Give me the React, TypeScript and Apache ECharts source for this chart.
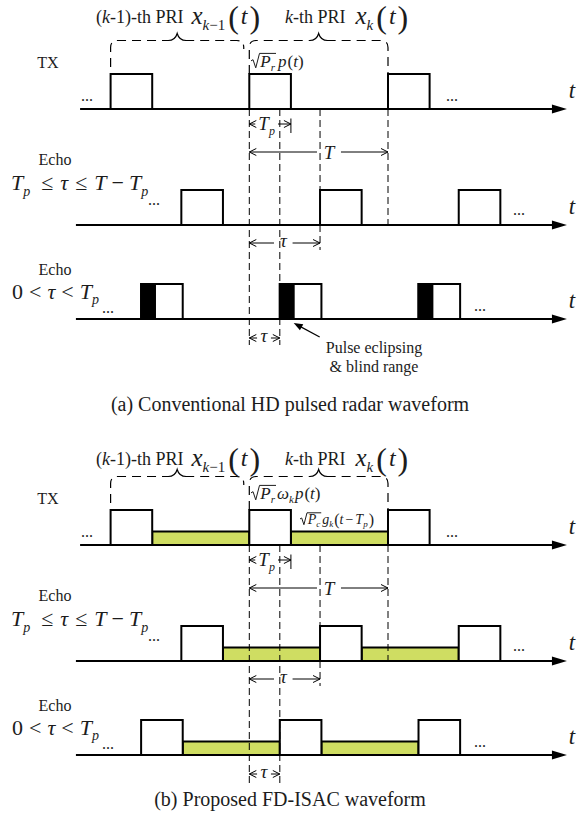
import React, { useEffect, useRef } from 'react';
import * as echarts from 'echarts';

// ---------------- data (time units, PRI T = 100) ----------------
const PRI = 100; // T
const PULSE_WIDTH = 30; // T_p
const TAU_LONG = 51; // T_p <= tau <= T - T_p
const TAU_SHORT = 22; // 0 < tau < T_p
const ECLIPSE_WIDTH = 10; // blind part of the eclipsed echo

const txPulseStarts = [-100, 0, 100];
const echoLongStarts = [-49, 51, 151];
const echoShortStarts = [-78, 22, 122];
const txCommBars = [[-70, 0], [30, 100]];
const echoLongCommBars = [[-19, 51], [81, 151]];
const echoShortCommBars = [[-48, 22], [52, 122]];
const braceSpans = [[-100, -4], [0, 100]];
const captions = ['(a) Conventional HD pulsed radar waveform', '(b) Proposed FD-ISAC waveform'];
const rowLabels = ['TX', 'Echo', 'Echo'];

// ---------------- layout ----------------
const W = 579;
const H = 823;
const X_ORIGIN_PX = 249.3;
const PX_PER_UNIT = 1.387;
const X_MIN = -X_ORIGIN_PX / PX_PER_UNIT;
const X_MAX = (W - X_ORIGIN_PX) / PX_PER_UNIT;
const PANEL_DY = [0, 436];
const TITLE_BASE = [23, 465];
const CAPTION_Y = [404, 799];
const BASE_TX = 109;
const BASE_E1 = 225;
const BASE_E2 = 319;
const PULSE_H = 35;
const COMM_H = 13.5;
const AXIS_END = 229;
const GREEN = '#cfdd62';
const INK = '#1c1c1c';
const FONT = '"Liberation Serif", "Times New Roman", Times, serif';

type Piece = { t?: string; s: number; i?: boolean; dy?: number; g?: number; rad?: Piece[] };

let mctx: CanvasRenderingContext2D | null = null;
function measure(t: string, s: number, i?: boolean) {
  if (!mctx) mctx = document.createElement('canvas').getContext('2d');
  if (!mctx) return t.length * s * 0.5;
  mctx.font = `${i ? 'italic ' : ''}${s}px ${FONT}`;
  return mctx.measureText(t).width;
}
function pieceWidth(p: Piece): number {
  if (p.rad) return (p.g || 0) + p.s * 0.55 + p.rad.reduce((a, q) => a + pieceWidth(q), 0) + 1;
  return (p.g || 0) + measure(p.t || '', p.s, p.i);
}
function textEl(text: string, x: number, y: number, s: number, italic = false, align = 'left') {
  return {
    type: 'text',
    x,
    y,
    style: { text, font: `${italic ? 'italic ' : ''}${s}px ${FONT}`, fill: INK, align, verticalAlign: 'middle' },
  };
}
function mathEls(pieces: Piece[], x0: number, base: number, align: 'left' | 'center', out: any[]) {
  const total = pieces.reduce((a, p) => a + pieceWidth(p), 0);
  let x = align === 'left' ? x0 : x0 - total / 2;
  const place = (ps: Piece[]) => {
    for (const p of ps) {
      x += p.g || 0;
      if (p.rad) {
        const s = p.s;
        const innerW = p.rad.reduce((a, q) => a + pieceWidth(q), 0);
        const X = x;
        out.push({
          type: 'polyline',
          shape: {
            points: [
              [X, base - 0.36 * s],
              [X + 0.12 * s, base - 0.43 * s],
              [X + 0.28 * s, base + 0.05 * s],
              [X + 0.5 * s, base - 0.8 * s],
              [X + 0.55 * s + innerW + 1, base - 0.8 * s],
            ],
          },
          style: { stroke: INK, fill: 'none', lineWidth: 1 },
        });
        x = X + 0.55 * s;
        place(p.rad);
        x += 1;
      } else {
        const b = base + (p.dy || 0);
        out.push(textEl(p.t || '', x, b - 0.34 * p.s, p.s, !!p.i));
        x += measure(p.t || '', p.s, p.i);
      }
    }
  };
  place(pieces);
}

// formulas
const titleKm1: Piece[] = [
  { t: '(', s: 18 }, { t: 'k', s: 18, i: true }, { t: '-1)-th PRI', s: 18 },
  { t: 'x', s: 25, i: true, g: 8, dy: 1 }, { t: 'k', s: 15, i: true, dy: 7 }, { t: '−1', s: 15, dy: 7 },
  { t: '(', s: 32, g: 3, dy: 5 }, { t: 't', s: 24, i: true, g: 2, dy: 1 }, { t: ')', s: 32, g: 2, dy: 5 },
];
const titleK: Piece[] = [
  { t: 'k', s: 18, i: true }, { t: '-th PRI', s: 18 },
  { t: 'x', s: 25, i: true, g: 10, dy: 1 }, { t: 'k', s: 15, i: true, dy: 7 },
  { t: '(', s: 32, g: 3, dy: 5 }, { t: 't', s: 24, i: true, g: 2, dy: 1 }, { t: ')', s: 32, g: 2, dy: 5 },
];
const radarSig: Piece[] = [
  { rad: [{ t: 'P', s: 17, i: true }, { t: 'r', s: 11, i: true, dy: 4 }], s: 17 },
  { t: 'p', s: 17, i: true, g: 2 }, { t: '(', s: 17, g: 1 }, { t: 't', s: 17, i: true }, { t: ')', s: 17 },
];
const radarSigB: Piece[] = [
  { rad: [{ t: 'P', s: 17, i: true }, { t: 'r', s: 11, i: true, dy: 4 }], s: 17 },
  { t: 'ω', s: 17, i: true, g: 1 }, { t: 'k', s: 11, i: true, dy: 4 },
  { t: 'p', s: 17, i: true, g: 1 }, { t: '(', s: 17, g: 1 }, { t: 't', s: 17, i: true }, { t: ')', s: 17 },
];
const commSig: Piece[] = [
  { rad: [{ t: 'P', s: 14, i: true }, { t: 'c', s: 9, i: true, dy: 3 }], s: 14 },
  { t: 'g', s: 14, i: true, g: 1 }, { t: 'k', s: 9, i: true, dy: 3 },
  { t: '(', s: 16, g: 1, dy: 1 }, { t: 't', s: 14, i: true }, { t: '−', s: 14, g: 2 },
  { t: 'T', s: 14, i: true, g: 2 }, { t: 'p', s: 9, i: true, dy: 3 }, { t: ')', s: 16, g: 1, dy: 1 },
];
const condLong: Piece[] = [
  { t: 'T', s: 22, i: true }, { t: 'p', s: 14, i: true, dy: 6 },
  { t: '≤', s: 22, g: 11 }, { t: 'τ', s: 22, i: true, g: 7 }, { t: '≤', s: 22, g: 7 },
  { t: 'T', s: 22, i: true, g: 7 }, { t: '−', s: 22, g: 5 }, { t: 'T', s: 22, i: true, g: 5 },
  { t: 'p', s: 14, i: true, dy: 6 },
];
const condShort: Piece[] = [
  { t: '0', s: 22 }, { t: '<', s: 22, g: 6 }, { t: 'τ', s: 22, i: true, g: 6 },
  { t: '<', s: 22, g: 6 }, { t: 'T', s: 22, i: true, g: 6 }, { t: 'p', s: 14, i: true, dy: 5 },
];
const labTp: Piece[] = [{ t: 'T', s: 19, i: true }, { t: 'p', s: 12, i: true, dy: 5 }];
const labT: Piece[] = [{ t: 'T', s: 19, i: true }];
const labTau: Piece[] = [{ t: 'τ', s: 19, i: true }];

function build(api: any) {
  const els: any[] = [];
  const c = (x: number, y: number) => api.coord([x, y]) as number[];
  const seg = (x1: number, y1: number, x2: number, y2: number, w = 1, dash?: number[]) => {
    const a = c(x1, y1);
    const b = c(x2, y2);
    els.push({
      type: 'line',
      shape: { x1: a[0], y1: a[1], x2: b[0], y2: b[1] },
      style: { stroke: '#000', lineWidth: w, lineDash: dash },
    });
  };
  const box = (x1: number, x2: number, yTop: number, yBot: number, fill: string, w = 2) => {
    const a = c(x1, yTop);
    const b = c(x2, yBot);
    els.push({
      type: 'rect',
      shape: { x: a[0], y: a[1], width: b[0] - a[0], height: b[1] - a[1] },
      style: { fill, stroke: '#000', lineWidth: w },
    });
  };
  const axis = (xs: number, base: number) => {
    const tip = c(AXIS_END, base);
    const s = c(xs, base);
    els.push({ type: 'line', shape: { x1: s[0], y1: s[1], x2: tip[0] - 10, y2: tip[1] }, style: { stroke: '#000', lineWidth: 2 } });
    els.push({
      type: 'polygon',
      shape: { points: [[tip[0], tip[1]], [tip[0] - 15, tip[1] - 4.5], [tip[0] - 15, tip[1] + 4.5]] },
      style: { fill: '#000' },
    });
  };
  const head = (x: number, y: number, dir: number) => {
    const p = c(x, y);
    els.push({
      type: 'polyline',
      shape: { points: [[p[0] - dir * 7, p[1] - 3.5], [p[0], p[1]], [p[0] - dir * 7, p[1] + 3.5]] },
      style: { stroke: '#000', fill: 'none', lineWidth: 1 },
    });
  };
  const dim = (x1: number, x2: number, y: number, gap: number[], label: Piece[], labelDy: number) => {
    seg(x1, y, gap[0], y, 1);
    seg(gap[1], y, x2, y, 1);
    head(x1, y, -1);
    head(x2, y, 1);
    const a = c(gap[0], y);
    const b = c(gap[1], y);
    mathEls(label, (a[0] + b[0]) / 2, a[1] + labelDy, 'center', els);
  };
  const dashV = (x: number, y1: number, y2: number) => seg(x, y1, x, y2, 1, [7, 4]);
  const brace = (xl: number, xr: number, yTop: number, yBotL: number, yBotR: number) => {
    const L = c(xl, yTop);
    const R = c(xr, yTop);
    const yl = c(xl, yBotL)[1];
    const yr = c(xr, yBotR)[1];
    const y = L[1];
    const r = 7;
    const mid = (L[0] + R[0]) / 2;
    const d =
      `M${L[0]} ${yl} L${L[0]} ${y + r} Q${L[0]} ${y} ${L[0] + r} ${y} L${mid - 8} ${y} ` +
      `M${mid + 8} ${y} L${R[0] - r} ${y} Q${R[0]} ${y} ${R[0]} ${y + r} L${R[0]} ${yr}`;
    els.push({ type: 'path', shape: { pathData: d }, style: { stroke: '#000', fill: 'none', lineWidth: 1.2, lineDash: [9, 6] } });
    const tip = `M${mid - 9} ${y} Q${mid - 2} ${y} ${mid} ${y - 7} Q${mid + 2} ${y} ${mid + 9} ${y}`;
    els.push({ type: 'path', shape: { pathData: tip }, style: { stroke: '#000', fill: 'none', lineWidth: 1.2 } });
  };
  const dots = (x: number, yDots: number) => els.push(textEl('...', x, yDots - 5, 16, false, 'center'));
  const tLabel = (base: number) => {
    const p = c(AXIS_END, base);
    els.push(textEl('t', p[0] + 5, p[1] - 19, 23, true, 'center'));
  };

  [0, 1].forEach((pi) => {
    const dy = PANEL_DY[pi];
    const isB = pi === 1;
    const bTX = BASE_TX + dy;
    const bE1 = BASE_E1 + dy;
    const bE2 = BASE_E2 + dy;

    // axes
    axis(-122, bTX);
    axis(-125, bE1);
    axis(-125, bE2);

    // communication bars (FD-ISAC only)
    if (isB) {
      txCommBars.forEach(([a, b]) => box(a, b, bTX - COMM_H, bTX, GREEN));
      echoLongCommBars.forEach(([a, b]) => box(a, b, bE1 - COMM_H, bE1, GREEN));
      echoShortCommBars.forEach(([a, b]) => box(a, b, bE2 - COMM_H, bE2, GREEN));
    }

    // pulses
    txPulseStarts.forEach((s) => box(s, s + PULSE_WIDTH, bTX - PULSE_H, bTX, '#fff'));
    echoLongStarts.forEach((s) => box(s, s + PULSE_WIDTH, bE1 - PULSE_H, bE1, '#fff'));
    echoShortStarts.forEach((s) => box(s, s + PULSE_WIDTH, bE2 - PULSE_H, bE2, '#fff'));
    if (!isB) {
      echoShortStarts.forEach((s) => box(s, s + ECLIPSE_WIDTH, bE2 - PULSE_H, bE2, '#000'));
    }

    // dashed guide lines
    const guideEnd = bE2 + (isB ? 28 : 26);
    dashV(0, bTX, guideEnd);
    dashV(TAU_SHORT, bTX, guideEnd);
    dashV(TAU_LONG, bTX, bE1 - PULSE_H);
    dashV(TAU_LONG, bE1, bE1 + 25);
    dashV(PRI, bTX, bE1);

    // braces over PRIs
    brace(braceSpans[0][0], braceSpans[0][1], 40.5 + dy, 67 + dy, 49 + dy);
    brace(braceSpans[1][0], braceSpans[1][1], 40.5 + dy, bTX - PULSE_H, bTX - PULSE_H);

    // dimension arrows
    dim(0, PULSE_WIDTH, 124 + dy, [4.3, 20.7], labTp, 6);
    seg(PULSE_WIDTH, 118.5 + dy, PULSE_WIDTH, 133 + dy, 1);
    dim(0, PRI, 152 + dy, [48.8, 66.1], labT, 6.5);
    dim(0, TAU_LONG, 243 + dy, [17.8, 31.2], labTau, 4);
    dim(0, TAU_SHORT, 338 + dy, [5.6, 15.6], labTau, 4);

    // titles
    mathEls(titleKm1, 96, TITLE_BASE[pi], 'left', els);
    mathEls(titleK, 285, TITLE_BASE[pi], 'left', els);
    if (isB) {
      mathEls(radarSigB, 251, 499, 'left', els);
      mathEls(commSig, 300, 524, 'left', els);
    } else {
      mathEls(radarSig, 251, 67, 'left', els);
    }

    // row labels
    els.push(textEl(rowLabels[0], 48, 62 + dy, 16, false, 'center'));
    els.push(textEl(rowLabels[1], 55, 159 + dy, 16, false, 'center'));
    els.push(textEl(rowLabels[2], 55, 269 + dy, 16, false, 'center'));
    mathEls(condLong, 11, 190 + dy, 'left', els);
    mathEls(condShort, 12, 299 + dy, 'left', els);

    // ellipses and t labels
    dots(87, bTX - 9);
    dots(452, bTX - 9);
    dots(154, bE1 - 21);
    dots(519, bE1 - 11);
    dots(108, bE2 - 7);
    dots(480, bE2 - 9);
    tLabel(bTX);
    tLabel(bE1);
    tLabel(bE2);

    // pointer for eclipsing (HD only)
    if (!isB) {
      const tip = c(TAU_SHORT + ECLIPSE_WIDTH, bE2 + 4);
      const tail = [tip[0] + 26, tip[1] + 14];
      els.push({ type: 'line', shape: { x1: tail[0], y1: tail[1], x2: tip[0] + 3, y2: tip[1] + 1.6 }, style: { stroke: '#000', lineWidth: 1.2 } });
      const ang = Math.atan2(tail[1] - tip[1], tail[0] - tip[0]);
      const L = 9;
      const w = 3.5;
      const bx = tip[0] + Math.cos(ang) * L;
      const by = tip[1] + Math.sin(ang) * L;
      els.push({
        type: 'polygon',
        shape: { points: [[tip[0], tip[1]], [bx - Math.sin(ang) * w, by + Math.cos(ang) * w], [bx + Math.sin(ang) * w, by - Math.cos(ang) * w]] },
        style: { fill: '#000' },
      });
      els.push(textEl('Pulse eclipsing', 374, 347, 16, false, 'center'));
      els.push(textEl('& blind range', 374, 366, 16, false, 'center'));
    }

    els.push(textEl(captions[pi], 290, CAPTION_Y[pi], 20, false, 'center'));
  });
  return els;
}

export default function App() {
  const ref = useRef<HTMLDivElement>(null);
  useEffect(() => {
    if (!ref.current) return;
    const chart = echarts.init(ref.current, null, { renderer: 'svg' });
    chart.setOption({
      animation: false,
      backgroundColor: '#fff',
      grid: { left: 0, right: 0, top: 0, bottom: 0 },
      xAxis: { type: 'value', min: X_MIN, max: X_MAX, show: false },
      yAxis: { type: 'value', min: 0, max: H, inverse: true, show: false },
      series: [
        {
          type: 'custom',
          coordinateSystem: 'cartesian2d',
          data: [[0, 0]],
          clip: false,
          silent: true,
          renderItem: (_params: any, api: any) => ({ type: 'group', children: build(api) }),
        },
      ],
    });
    return () => chart.dispose();
  }, []);
  return (
    <div
      ref={ref}
      style={{ position: 'absolute', left: 0, top: 0, width: W, height: H, background: '#fff' }}
    />
  );
}
